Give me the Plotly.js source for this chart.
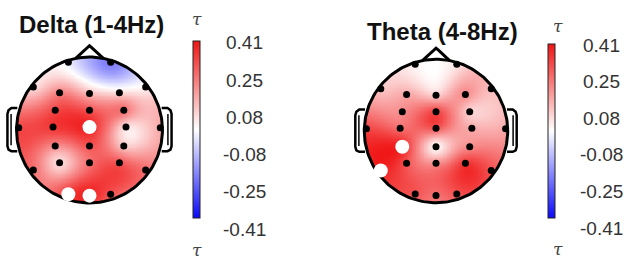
<!DOCTYPE html>
<html><head><meta charset="utf-8">
<script src="https://cdn.plot.ly/plotly-3.0.1.min.js"></script>
<style>html,body{margin:0;padding:0;background:#fff}</style>
</head><body>
<div id="chart" style="width:626px;height:260px"></div>
<script>
// ---------- data ----------
const electrodes = ['Fp1','Fp2','F7','F3','Fz','F4','F8','FC3','FCz','FC4','T7','C3','Cz','C4','T8','CP3','CPz','CP4','P7','P3','Pz','P4','P8','O1','Oz','O2'];
const elecX = [-0.29,0.29,-0.77,-0.41,0,0.41,0.77,-0.47,0,0.47,-0.97,-0.5,0,0.5,0.97,-0.47,0,0.47,-0.77,-0.41,0,0.41,0.77,-0.29,0,0.29];
const elecY = [0.93,0.93,0.59,0.51,0.5,0.51,0.59,0.27,0.27,0.27,0.03,0.04,0.04,0.04,0.03,-0.22,-0.22,-0.22,-0.55,-0.45,-0.45,-0.45,-0.55,-0.88,-0.9,-0.88];
const deltaTau = [-0.03,-0.22,0.06,0.22,0.12,0.06,0.02,0.32,0.30,0.25,0.32,0.35,0.38,0.05,0.15,0.20,0.30,0.10,0.25,0.06,0.25,0.30,0.25,0.35,0.38,0.30];
const thetaTau = [0.02,0.05,0.10,0.15,0.08,0.20,0.12,0.20,0.32,0.08,0.32,0.25,0.30,0.15,0.15,0.38,0.01,0.20,0.38,0.30,0.20,0.35,0.30,0.30,0.25,0.30];
const deltaSignificant = ['Cz','O1','Oz'];
const thetaSignificant = ['CP3','P7'];
const panelTitles = ['Delta (1-4Hz)','Theta (4-8Hz)'];
const tickLabels = ['0.41','0.25','0.08','-0.08','-0.25','-0.41'];
const tauMin = -0.41, tauMax = 0.41;

// ---------- helpers ----------
const W = 626, H = 260;
const px = x => x / W;
const py = y => 1 - y / H;

function green(d){ return d <= 0 ? 0 : d*d*(Math.log(d) - 1); }
function solve(A, b){
  const n = b.length; const M = A.map((r,i)=>r.concat([b[i]]));
  for (let c=0;c<n;c++){
    let p=c; for(let r=c+1;r<n;r++) if(Math.abs(M[r][c])>Math.abs(M[p][c])) p=r;
    [M[c],M[p]]=[M[p],M[c]];
    for(let r=0;r<n;r++){ if(r===c) continue; const f=M[r][c]/M[c][c]; for(let k=c;k<=n;k++) M[r][k]-=f*M[c][k]; }
  }
  return M.map((r,i)=>r[n]/r[i]);
}
function topoGrid(values){
  const n = elecX.length;
  const G = [];
  for(let i=0;i<n;i++){ G.push([]); for(let j=0;j<n;j++) G[i].push(green(Math.hypot(elecX[i]-elecX[j], elecY[i]-elecY[j]))); }
  const w = solve(G, values.slice());
  const N = 181, g = [];
  for(let k=0;k<N;k++) g.push(-1 + 2*k/(N-1));
  const z = g.map(y => g.map(x => {
    if (Math.hypot(x,y) > 1.0) return null;
    let s = 0; for(let j=0;j<n;j++) s += w[j]*green(Math.hypot(x-elecX[j], y-elecY[j]));
    return s;
  }));
  return {x:g, y:g, z:z};
}

const colorscale = [[0,'rgb(10,10,250)'],[0.5,'rgb(255,255,255)'],[1,'rgb(240,20,20)']];

const panels = [
  {vals: deltaTau, sig: deltaSignificant, xa:'x', ya:'y',
   dom:{x:[px(0.5),px(178.5)], y:[py(219),py(41)]},
   cb:{x:193, top:41, bot:218}, lab:{x:244.5, top:43, bot:229}, tau:{x:197, top:19, bot:250},
   title:{x:91, y:25}},
  {vals: thetaTau, sig: thetaSignificant, xa:'x2', ya:'y2',
   dom:{x:[px(348.5),px(523.5)], y:[py(218.5),py(43.5)]},
   cb:{x:548, top:44, bot:218}, lab:{x:601, top:45, bot:228}, tau:{x:558, top:26, bot:249},
   title:{x:442, y:31}}
];

const traces = [], annotations = [];
const layout = {width:W, height:H, margin:{l:0,r:0,t:0,b:0}, paper_bgcolor:'#fff', plot_bgcolor:'rgba(0,0,0,0)', showlegend:false, annotations:annotations};

const circT = []; for(let k=0;k<=180;k++) circT.push(2*Math.PI*k/180);
panels.forEach((p,i)=>{
  const gr = topoGrid(p.vals);
  traces.push({type:'heatmap', x:gr.x, y:gr.y, z:gr.z, xaxis:p.xa, yaxis:p.ya, zmin:tauMin, zmax:tauMax,
    colorscale:colorscale, zsmooth:false, hoverinfo:'skip',
    colorbar:{x:px(p.cb.x), xanchor:'left', y:py((p.cb.top+p.cb.bot)/2), yanchor:'middle', lenmode:'pixels', len:p.cb.bot-p.cb.top,
      thickness:7, thicknessmode:'pixels', xpad:0, ypad:0, outlinewidth:1, outlinecolor:'#222', showticklabels:false, ticks:''}});
  const line = {color:'#000', width:3};
  traces.push({type:'scatter', mode:'lines', x:circT.map(t=>Math.cos(t)), y:circT.map(t=>Math.sin(t)), xaxis:p.xa, yaxis:p.ya, line:line, hoverinfo:'skip'});
  traces.push({type:'scatter', mode:'lines', x:[-0.19,-0.03,0,0.03,0.19], y:[0.982,1.13,1.155,1.13,0.982], xaxis:p.xa, yaxis:p.ya, line:{color:'#000',width:3}, hoverinfo:'skip'});
  [-1,1].forEach(s=>{
    traces.push({type:'scatter', mode:'lines', x:[0.99,1.07,1.11,1.125,1.125,1.11,1.07,0.99].map(v=>v*s), y:[0.30,0.30,0.27,0.22,-0.22,-0.27,-0.29,-0.29], xaxis:p.xa, yaxis:p.ya, line:{color:'#000',width:2.5}, hoverinfo:'skip'});
    traces.push({type:'scatter', mode:'lines', x:[1.075,1.075].map(v=>v*s), y:[0.22,-0.21], xaxis:p.xa, yaxis:p.ya, line:{color:'#000',width:1.5}, hoverinfo:'skip'});
  });
  const isSig = electrodes.map(e=>p.sig.includes(e));
  traces.push({type:'scatter', mode:'markers', x:elecX.filter((v,k)=>!isSig[k]), y:elecY.filter((v,k)=>!isSig[k]), xaxis:p.xa, yaxis:p.ya,
    marker:{color:'#000', size:7}, hoverinfo:'skip'});
  traces.push({type:'scatter', mode:'markers', x:elecX.filter((v,k)=>isSig[k]), y:elecY.filter((v,k)=>isSig[k]), xaxis:p.xa, yaxis:p.ya,
    marker:{color:'#fff', size:14}, hoverinfo:'skip'});
  const axn = i===0 ? '' : '2';
  layout['xaxis'+axn] = {domain:p.dom.x, range:[-1.22,1.22], visible:false, fixedrange:true, anchor:'y'+axn};
  layout['yaxis'+axn] = {domain:p.dom.y, range:[-1.22,1.22], visible:false, fixedrange:true, anchor:'x'+axn};
  annotations.push({text:'<b>'+panelTitles[i]+'</b>', xref:'paper', yref:'paper', x:px(p.title.x), y:py(p.title.y), xanchor:'center', yanchor:'middle', showarrow:false,
    font:{family:'Liberation Sans, Arial, sans-serif', size:24, color:'#111'}});
  const step = (p.lab.bot - p.lab.top)/(tickLabels.length-1);
  tickLabels.forEach((t,k)=>annotations.push({text:t, xref:'paper', yref:'paper', x:px(p.lab.x), y:py(p.lab.top+k*step), xanchor:'center', yanchor:'middle', showarrow:false,
    font:{family:'Liberation Sans, Arial, sans-serif', size:19, color:'#333'}}));
  [p.tau.top, p.tau.bot].forEach(yy=>annotations.push({text:'<i>τ</i>', xref:'paper', yref:'paper', x:px(p.tau.x), y:py(yy), xanchor:'center', yanchor:'middle', showarrow:false,
    font:{family:'DejaVu Serif, serif', size:17, color:'#444'}}));
});

Plotly.newPlot('chart', traces, layout, {staticPlot:true, displayModeBar:false});
</script>
</body></html>
